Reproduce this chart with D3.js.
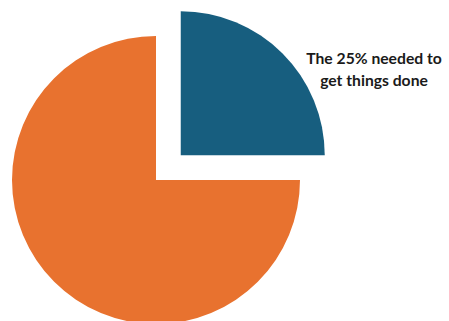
<!DOCTYPE html>
<html><head><meta charset="utf-8">
<script src="https://cdn.jsdelivr.net/npm/d3@7"></script>
<style>html,body{margin:0;padding:0;background:#fff;}svg{display:block;}</style>
</head><body>
<svg id="chart" width="449" height="321"></svg>
<script>
const categories = ["The 25% needed to get things done", "The rest"];
const values = [25, 75];
const colors = ["#175E7F", "#E8722F"];
const labelLines = ["The 25% needed to", "get things done"];

const svg = d3.select("#chart");
const cx = 156, cy = 180, r = 144, explode = 35;
const pie = d3.pie().sort(null).value(d => d)(values);
const arc = d3.arc().innerRadius(0).outerRadius(r);

const g = svg.append("g").attr("transform", `translate(${cx},${cy})`);
g.selectAll("path").data(pie).join("path")
  .attr("d", arc)
  .attr("fill", (d, i) => colors[i])
  .attr("transform", (d, i) => {
    if (i !== 0) return null;
    const a = (d.startAngle + d.endAngle) / 2;
    return `translate(${Math.sin(a) * explode},${-Math.cos(a) * explode})`;
  });

const tx = 374;
const t = svg.append("text")
  .attr("x", tx).attr("y", 64)
  .attr("text-anchor", "middle")
  .attr("font-family", "Lato, 'Open Sans', sans-serif")
  .attr("font-weight", "bold")
  .attr("font-size", 15.7)
  .attr("fill", "#1a1a1a");
labelLines.forEach((l, i) => t.append("tspan").attr("x", tx).attr("dy", i ? 21.5 : 0).text(l));
</script>
</body></html>
